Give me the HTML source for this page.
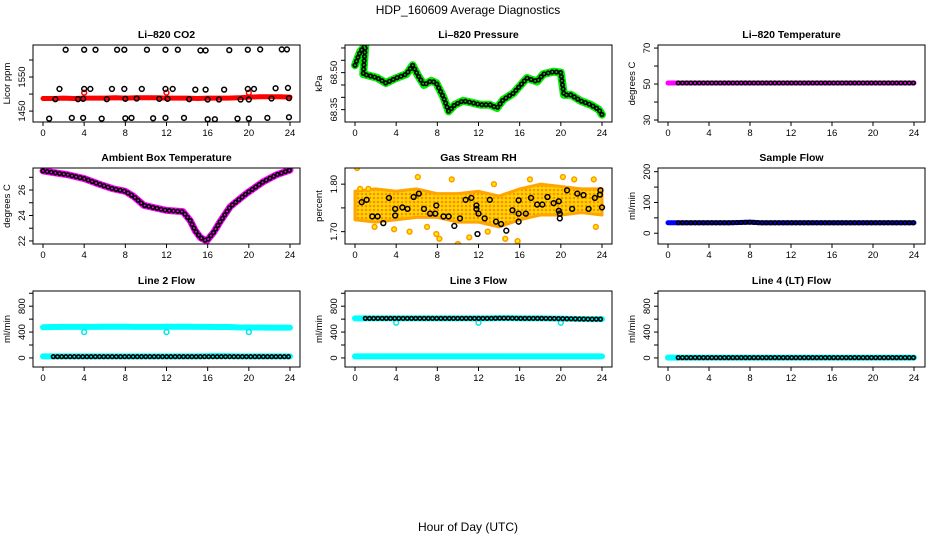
<!DOCTYPE html>
<html><head><meta charset="utf-8"><title>HDP_160609 Average Diagnostics</title>
<style>html,body{margin:0;padding:0;background:#fff}svg{display:block;font-family:"Liberation Sans",sans-serif}</style>
</head><body>
<svg id="chart" width="936" height="540" viewBox="0 0 936 540" xmlns="http://www.w3.org/2000/svg">
<defs>
<pattern id="rhpat" width="4" height="4" patternUnits="userSpaceOnUse"><rect width="4" height="4" fill="#ffd700"/><circle cx="2" cy="2" r="1.3" fill="#ff8c00"/></pattern>
</defs>
<text x="468" y="14" font-size="12" text-anchor="middle">HDP_160609  Average Diagnostics</text>
<text x="468" y="531" font-size="12" text-anchor="middle">Hour of Day (UTC)</text>
</svg>
<script>
// ---------- data ----------
const xTicks = [0,4,8,12,16,20,24];
const hours25 = [0,1,2,3,4,5,6,7,8,9,10,11,12,13,14,15,16,17,18,19,20,21,22,23,24];

const co2Red = [1487,1487,1488,1487,1488,1488,1488,1489,1488,1489,1489,1489,1488,1488,1488,1487,1488,1488,1488,1489,1491,1492,1492,1492,1491];
const co2SpikeHours = [4,12,20];
const co2Spike = [1504,1504,1504];
const co2BlackHours = [2.2,4.0,5.1,7.2,7.9,10.1,11.9,13.1,15.3,15.8,18.1,19.9,21.1,23.2,23.7,
  1.6,4.0,4.6,6.7,7.9,9.6,11.9,12.6,14.8,15.8,17.6,19.9,20.5,22.6,23.8,
  1.2,3.4,3.9,6.2,8.0,9.1,11.3,12.1,14.2,16.0,17.1,19.2,20.0,22.2,23.9,
  0.6,2.8,3.9,5.7,8.0,8.6,10.7,11.9,13.7,16.0,16.7,18.9,20.0,21.8,23.9];
const co2BlackValues = [1630,1630,1630,1630,1630,1630,1630,1630,1628,1628,1629,1630,1631,1631,1631,
  1515,1515,1515,1515,1515,1515,1515,1515,1513,1513,1513,1515,1515,1517,1518,
  1485,1485,1486,1485,1486,1487,1486,1486,1485,1484,1484,1484,1484,1487,1488,
  1428,1430,1430,1428,1429,1430,1429,1430,1430,1426,1426,1428,1428,1430,1432];

const pressHours = [0,0.5,1.0,0.8,2.1,3.0,4.0,5.0,5.6,6.1,6.7,7.4,7.9,8.6,9.1,9.7,10.5,11.5,12.2,13.1,13.8,14.4,15.4,16.1,16.7,17.7,18.3,19.3,20.0,20.3,21.0,21.9,22.9,23.7,24.0];
const pressValues = [68.53,68.585,68.61,68.494,68.48,68.458,68.478,68.494,68.53,68.49,68.45,68.467,68.458,68.40,68.343,68.37,68.386,68.377,68.37,68.37,68.357,68.39,68.417,68.45,68.478,68.464,68.494,68.504,68.50,68.41,68.41,68.386,68.37,68.35,68.33];

const li820Temp = [50.6,50.6,50.6,50.6,50.6,50.6,50.6,50.6,50.6,50.6,50.6,50.6,50.6,50.6,50.6,50.6,50.6,50.6,50.6,50.6,50.6,50.6,50.6,50.6,50.6];

const ambHours = [0,2.4,4,5.5,6.8,8,8.8,9.8,11.1,12,13.6,14.3,14.8,15.3,15.9,16.6,17.2,18.2,19.8,21.4,22.7,24];
const ambValues = [27.5,27.2,26.9,26.45,26.1,25.9,25.5,24.8,24.56,24.4,24.3,23.6,22.8,22.26,22.0,22.7,23.5,24.7,25.75,26.65,27.2,27.57];

const rhBandHours = [0,2,4,6,8,10,12,14,16,18,20,22,24];
const rhHigh = [1.785,1.79,1.785,1.79,1.78,1.78,1.785,1.775,1.79,1.80,1.795,1.79,1.79];
const rhLow = [1.725,1.72,1.725,1.73,1.73,1.72,1.72,1.71,1.725,1.735,1.735,1.74,1.735];
const rhOutHours = [0.2,0.5,1.3,1.9,3.8,5.3,6.1,7.0,7.9,8.2,10.0,11.1,12.9,14.6,15.8,17.0,20.2,21.3,23.2,23.4,9.4,13.5];
const rhOutValues = [1.834,1.79,1.79,1.71,1.705,1.70,1.815,1.71,1.695,1.685,1.674,1.688,1.70,1.685,1.68,1.81,1.815,1.81,1.81,1.71,1.81,1.80];
const rhBlackHours = [0.65,1.13,1.68,2.2,2.75,3.3,3.9,3.9,4.6,5.1,5.7,6.2,6.7,7.3,7.8,7.9,8.6,9.1,9.65,10.2,10.75,11.3,11.8,11.8,12.0,11.9,12.6,13.1,13.7,14.2,14.7,15.3,15.9,15.9,15.9,16.6,17.1,17.7,18.2,18.7,19.3,19.8,19.8,19.9,19.9,20.6,21.1,21.6,22.2,22.7,23.3,23.8,23.85,24.0];
const rhBlackValues = [1.762,1.767,1.732,1.732,1.718,1.771,1.748,1.734,1.751,1.748,1.773,1.780,1.748,1.738,1.738,1.755,1.732,1.732,1.712,1.728,1.767,1.771,1.755,1.748,1.738,1.695,1.728,1.767,1.721,1.716,1.702,1.745,1.766,1.738,1.721,1.738,1.771,1.757,1.757,1.773,1.760,1.764,1.744,1.738,1.728,1.787,1.748,1.780,1.777,1.748,1.771,1.778,1.787,1.751];

const sampleFlow = [34,34,34,34,34,34,34,35,36,34,34,34,34,34,34,34,34,34,34,34,34,34,34,34,34];

const line2High = [475,478,480,480,480,480,482,482,482,480,480,480,482,482,482,480,480,478,478,472,470,470,468,468,468];
const line2Low = [25,25,25,25,25,25,25,25,25,25,25,25,25,25,25,25,28,30,28,25,25,25,25,25,25];
const line2Black = [20,20,20,20,20,20,20,20,20,20,20,20,20,20,20,20,20,20,20,20,20,20,20,20,20];
const line3Black = [612,612,612,612,612,612,612,612,612,612,612,612,612,612,615,615,612,612,612,610,608,605,602,600,600];
const line3Low = [25,25,25,25,25,25,25,25,25,25,25,25,25,25,25,25,25,25,25,25,25,25,25,25,25];
const dipHours = [4,12,20];
const line2Dip = [400,400,400];
const line3Dip = [545,545,545];
const line4Values = [5,5,5,5,5,5,5,5,5,5,5,5,5,5,5,5,5,5,5,5,5,5,5,5,5];

// ---------- layout ----------
const svg = document.getElementById('chart');
const NS = 'http://www.w3.org/2000/svg';
const cols = [{l:33,r:300,x0:43,x24:290},{l:345,r:612,x0:355,x24:602},{l:658,r:925,x0:668,x24:914}];
const rows = [{t:45,b:122},{t:168,b:244},{t:291,b:367}];
let clipId = 0;

function mk(tag, attrs, parent){
  const e = document.createElementNS(NS, tag);
  for (const k in attrs) e.setAttribute(k, attrs[k]);
  (parent||svg).appendChild(e);
  return e;
}

function panel(c, r, name, title, ytitle, ymin, ymax, ticks, labels){
  const C = cols[c], R = rows[r];
  const g = mk('g', {});
  
  
  const sx = h => C.x0 + h/24*(C.x24-C.x0);
  const sy = v => R.b - (v-ymin)/(ymax-ymin)*(R.b-R.t);
  const t = mk('text', {x:(C.l+C.r)/2, y:R.t-7, 'font-size':10.5, 'font-weight':'bold', 'text-anchor':'middle'}, g);
  t.textContent = title;
  
  
  const yt = mk('text', {transform:`translate(${C.l-23},${(R.t+R.b)/2}) rotate(-90)`, 'font-size':9.5, 'text-anchor':'middle'}, g);
  yt.textContent = ytitle;
  
  
  // x axis
  xTicks.forEach(h => {
    const tk = mk('line', {x1:sx(h), x2:sx(h), y1:R.b, y2:R.b+4, stroke:'#000', 'stroke-width':1}, g);
    
    
    const tl = mk('text', {x:sx(h), y:R.b+14, 'font-size':9.5, 'text-anchor':'middle'}, g);
    tl.textContent = h;
    
    
  });
  ticks.forEach(v => {
    const tk = mk('line', {x1:C.l-4, x2:C.l, y1:sy(v), y2:sy(v), stroke:'#000', 'stroke-width':1}, g);
    
    
  });
  labels.forEach(v => {
    const tl = mk('text', {transform:`translate(${C.l-8},${sy(v)}) rotate(-90)`, 'font-size':9.5, 'text-anchor':'middle'}, g);
    tl.textContent = v.lbl;
    
    
  });
  clipId++;
  const cp = mk('clipPath', {id:'cp'+clipId}, g);
  mk('rect', {x:C.l, y:R.t, width:C.r-C.l, height:R.b-R.t}, cp);
  const plot = mk('g', {'clip-path':`url(#cp${clipId})`}, g);
  
  
  const box = mk('rect', {x:C.l, y:R.t, width:C.r-C.l, height:R.b-R.t, fill:'none', stroke:'#000', 'stroke-width':1}, g);
  
  
  return {sx, sy, g:plot, frame:box};
}
function lbls(arr, fmt){ return arr.map(v => ({v, lbl: fmt ? fmt(v) : String(v)})); }
function fixLabels(p){ return p; }
function pts(p, hs, vs){ return hs.map((h,i) => p.sx(h)+','+p.sy(vs[i])).join(' '); }
function band(p, hs, vs, color, w, name){
  const e = mk('polyline', {points:pts(p,hs,vs), fill:'none', stroke:color, 'stroke-width':w, 'stroke-linejoin':'round', 'stroke-linecap':'round'}, p.g);
  
  
}
function ringLine(p, hs, vs, inner, name){
  const e = mk('polyline', {points:pts(p,hs,vs), fill:'none', stroke:'#000', 'stroke-width':5.2, 'stroke-dasharray':'0 4.2', 'stroke-linecap':'round', 'stroke-linejoin':'round'}, p.g);
  
  
  const f = mk('polyline', {points:pts(p,hs,vs), fill:'none', stroke:inner, 'stroke-width':2, 'stroke-dasharray':'0 4.2', 'stroke-linecap':'round', 'stroke-linejoin':'round'}, p.g);
  
  
}
function rings(p, hs, vs, color, name, fill){
  hs.forEach((h,i) => {
    const c = mk('circle', {cx:p.sx(h), cy:p.sy(vs[i]), r:2.4, fill:fill||'none', stroke:color, 'stroke-width':1.5}, p.g);
    
    
  });
}
// y-axis label format helper (labels only where R shows them)
function yl(vals, fmt){ return vals.map(v => ({v, lbl: fmt ? fmt(v) : String(v)})).map(o => Object.assign(o, {})); }

// patch: labels positioned by value
function L(vals, fmt){ return vals.map(v => ({lbl: fmt ? fmt(v) : String(v), v})); }

// Because panel() uses sy(v) for label objects, adapt:
const _panel = panel;
function P(c,r,name,title,yt,ymin,ymax,ticks,labVals,fmt){
  const p = _panel(c,r,name,title,yt,ymin,ymax,ticks,[]);
  const C = cols[c];
  labVals.forEach(v => {
    const tl = mk('text', {transform:`translate(${C.l-8},${p.sy(v)}) rotate(-90)`, 'font-size':9.5, 'text-anchor':'middle'}, p.frame.parentNode);
    tl.textContent = fmt ? fmt(v) : String(v);
    
    
  });
  return p;
}

// ---------- panels ----------
// 1. CO2
let p = P(0,0,'co2','Li\u2013820 CO2','Licor ppm',1418,1644,[1450,1500,1550,1600],[1450,1550]);
band(p, hours25, co2Red, '#ff0000', 5, 'co2-red-series');
rings(p, co2SpikeHours, co2Spike, '#ff0000', 'co2-red-point');
rings(p, co2BlackHours, co2BlackValues, '#000', 'co2-black-point');

// 2. Pressure
p = P(1,0,'pressure','Li\u2013820 Pressure','kPa',68.30,68.612,[68.35,68.40,68.45,68.50,68.55,68.60],[68.35,68.50],v=>v.toFixed(2));
band(p, pressHours, pressValues, '#00ee00', 8, 'pressure-green-series');
ringLine(p, pressHours, pressValues, '#00cc00', 'pressure-black-series');

// 3. Li-820 temperature
p = P(2,0,'li820-temperature','Li\u2013820 Temperature','degrees C',28.9,71.7,[30,40,50,60,70],[30,50,70]);
band(p, hours25, li820Temp, '#ff00ff', 5, 'li820-temp-magenta-series');
ringLine(p, hours25.slice(1), li820Temp.slice(1), '#ff00ff', 'li820-temp-black-series');

// 4. Ambient box temperature
p = P(0,1,'ambient-temperature','Ambient Box Temperature','degrees C',21.76,27.73,[22,23,24,25,26,27],[22,24,26]);
band(p, ambHours, ambValues, '#ff00ff', 7, 'ambient-magenta-series');
ringLine(p, ambHours, ambValues, '#ff00ff', 'ambient-black-series');

// 5. Gas stream RH
p = P(1,1,'gas-rh','Gas Stream RH','percent',1.674,1.834,[1.70,1.75,1.80],[1.70,1.80],v=>v.toFixed(2));
{
  const up = rhBandHours.map((h,i) => p.sx(h)+','+p.sy(rhHigh[i]));
  const dn = rhBandHours.map((h,i) => p.sx(h)+','+p.sy(rhLow[i])).reverse();
  const poly = mk('polygon', {points: up.concat(dn).join(' '), fill:'url(#rhpat)', stroke:'#ffa500', 'stroke-width':3, 'stroke-linejoin':'round'}, p.g);
  
  
}
rings(p, rhOutHours, rhOutValues, '#ff9900', 'rh-orange-point', '#ffee00');
rings(p, rhBlackHours, rhBlackValues, '#000', 'rh-black-point');

// 6. Sample flow
p = P(2,1,'sample-flow','Sample Flow','ml/min',-35,212,[0,50,100,150,200],[0,100,200]);
band(p, hours25, sampleFlow, '#0000ff', 5, 'sample-flow-blue-series');
ringLine(p, hours25.slice(1), sampleFlow.slice(1), '#0000ff', 'sample-flow-black-series');

// 7. Line 2 flow
p = P(0,2,'line2-flow','Line 2 Flow','ml/min',-140,1035,[0,200,400,600,800,1000],[0,400,800]);
band(p, hours25, line2High, '#00ffff', 6, 'line2-cyan-high-series');
rings(p, dipHours, line2Dip, '#00e5e5', 'line2-dip-point');
band(p, hours25, line2Low, '#00ffff', 6, 'line2-cyan-low-series');
ringLine(p, hours25.slice(1), line2Black.slice(1), '#00ffff', 'line2-black-series');

// 8. Line 3 flow
p = P(1,2,'line3-flow','Line 3 Flow','ml/min',-140,1035,[0,200,400,600,800,1000],[0,400,800]);
band(p, hours25, line3Black, '#00ffff', 6, 'line3-cyan-high-series');
rings(p, dipHours, line3Dip, '#00e5e5', 'line3-dip-point');
ringLine(p, hours25.slice(1), line3Black.slice(1), '#00ffff', 'line3-black-series');
band(p, hours25, line3Low, '#00ffff', 6, 'line3-cyan-low-series');

// 9. Line 4 flow
p = P(2,2,'line4-flow','Line 4 (LT) Flow','ml/min',-140,1035,[0,200,400,600,800,1000],[0,400,800]);
band(p, hours25, line4Values, '#00ffff', 6, 'line4-cyan-series');
ringLine(p, hours25.slice(1), line4Values.slice(1), '#00ffff', 'line4-black-series');
</script>
</body></html>
